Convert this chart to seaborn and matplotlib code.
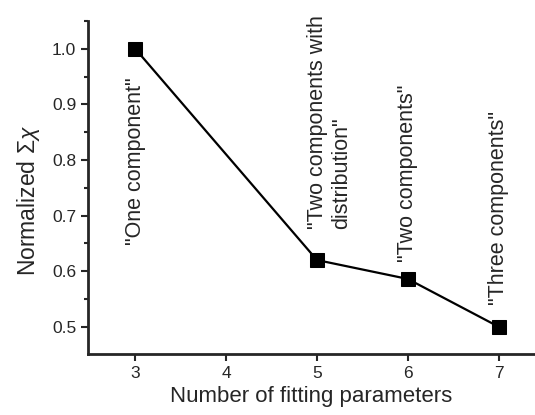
import numpy as np
import pandas as pd
import seaborn as sb
import matplotlib
matplotlib.use('Agg')
import matplotlib.pyplot as plt
from matplotlib.ticker import MultipleLocator

n_params = [3, 5, 6, 7]
norm_chi = [1.0, 0.62, 0.586, 0.50]
labels = ['"One component"', '"Two components with\ndistribution"',
          '"Two components"', '"Three components"']
label_x = [3.0, 5.14, 6.0, 7.0]
label_y = [0.647, 0.675, 0.617, 0.54]

data = pd.DataFrame({'params': n_params, 'chi': norm_chi})

sb.set_style("ticks")
plt.rcParams['font.family'] = ['Liberation Sans', 'DejaVu Sans']
plt.rcParams['mathtext.fontset'] = 'custom'
plt.rcParams['mathtext.rm'] = 'Liberation Sans'
plt.rcParams['mathtext.it'] = 'Liberation Sans:italic'

fig = plt.figure(figsize=[5.35, 4.15], dpi=100)
ax = fig.add_axes([88 / 535, 1 - 354 / 415, 1 - 88 / 535, (354 - 21) / 415])

sb.lineplot(data=data, x='params', y='chi', ax=ax, color='black', lw=1.6,
            marker='s', markersize=9.5, markeredgecolor='black')

for lx, ly, t in zip(label_x, label_y, labels):
    ax.text(lx, ly, t, rotation=90, ha='center', va='bottom', fontsize=15.5,
            multialignment='left', linespacing=1.15)

ax.set_xlim(2.48, 7.4)
ax.set_ylim(0.451, 1.05)
ax.set_xticks([3, 4, 5, 6, 7])
ax.yaxis.set_major_locator(MultipleLocator(0.1))
ax.yaxis.set_minor_locator(MultipleLocator(0.05))
ax.yaxis.set_major_formatter(matplotlib.ticker.FormatStrFormatter('%.1f'))
ax.set_xlabel('Number of fitting parameters', fontsize=16, labelpad=4)
ax.set_ylabel(r'Normalized $\mathit{\Sigma}\chi$', fontsize=16.5)
ax.yaxis.set_label_coords(-0.103, 0.46)
ax.tick_params(axis='both', which='major', labelsize=12.5, width=1.5, length=5, direction='out')
ax.tick_params(axis='y', which='minor', width=1.5, length=3, direction='out')
sb.despine(ax=ax)
for s in ['left', 'bottom']:
    ax.spines[s].set_linewidth(2)

fig.savefig('out.png', dpi=100)
